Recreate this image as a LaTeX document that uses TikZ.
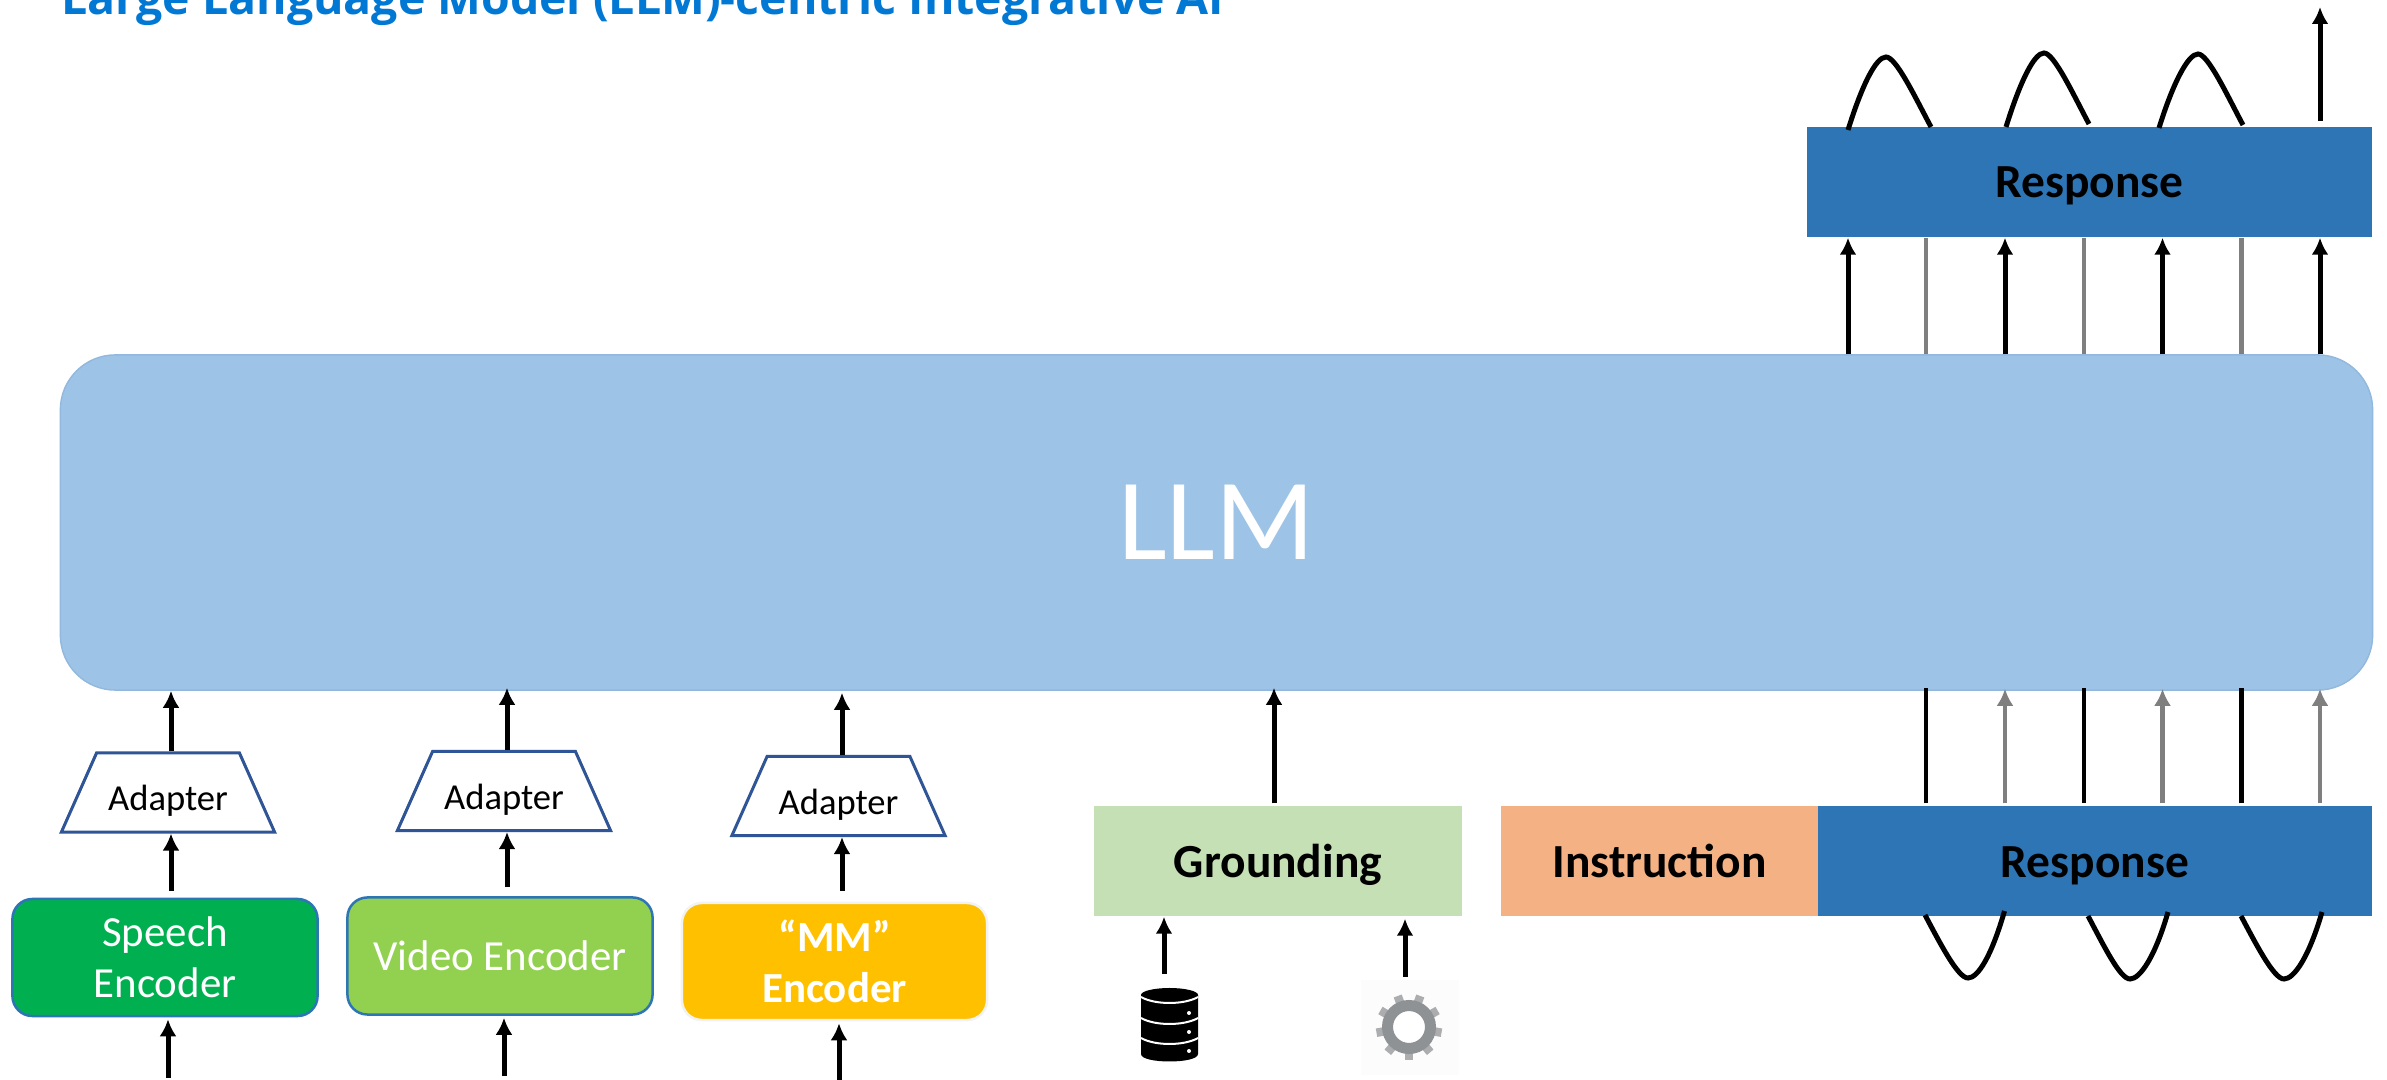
\documentclass[tikz,border=0pt]{standalone}
\usepackage{fontspec}
\setmainfont{Carlito}
\newfontfamily\titlefont{Open Sans}
\usetikzlibrary{arrows.meta, shapes.geometric}

\definecolor{llmblue}{HTML}{9DC3E6}
\definecolor{respblue}{HTML}{2E75B6}
\definecolor{edgeblue}{HTML}{2F5597}
\definecolor{groundgreen}{HTML}{C5E0B4}
\definecolor{instrorange}{HTML}{F4B183}
\definecolor{speechgreen}{HTML}{00B050}
\definecolor{videogreen}{HTML}{92D050}
\definecolor{mmyellow}{HTML}{FFC000}
\definecolor{titleblue}{HTML}{0078D4}
\definecolor{flowgray}{HTML}{7F7F7F}
\definecolor{geargray}{HTML}{8F9295}

\tikzset{
  flow/.style={-{Latex[length=.17cm,width=.17cm]},line width=.05cm},
  grayflow/.style={flow,flowgray,line width=.045cm},
  stub/.style={line width=.045cm},
  wave/.style={line width=.05cm},
  bar/.style={inner sep=0,minimum height=1.1cm,font=\fontsize{13.5}{15}\bfseries\selectfont,text height=.40cm,text depth=.08cm},
  encoder/.style={draw,rounded corners=.2cm,line width=.025cm,inner sep=0,minimum height=1.17cm,minimum width=3.05cm,text=white,align=center,font=\fontsize{12.2}{14.5}\selectfont},
  adapter/.style={draw=edgeblue,line width=.03cm,trapezium,trapezium stretches=true,trapezium left angle=61.4,trapezium right angle=61.4,inner sep=0,minimum width=2.14cm,minimum height=.79cm,font=\fontsize{10.4}{12}\selectfont,text height=.45cm,text depth=.09cm},
}

\begin{document}
\begin{tikzpicture}[x=0.01cm,y=-0.01cm]
\useasboundingbox (0,0) rectangle (2387,1080);
\fill[white] (0,0) rectangle (2387,1080);

\node[anchor=base west,inner sep=0,text=titleblue,font=\titlefont\fontsize{13.2}{15}\bfseries\selectfont] (title) at (61,15) {Large Language Model (LLM)-centric Integrative AI};

\node[draw=llmblue!90!edgeblue,fill=llmblue,rounded corners=.55cm,inner sep=0,minimum width=23.11cm,minimum height=3.35cm,text=white,font=\fontsize{33}{36}\selectfont] (llm) at (1216.5,522.5) {LLM};

% output side
\node[bar,fill=respblue,minimum width=5.65cm] (resptop) at (2089.5,182) {Response};
\node[bar,fill=respblue,minimum width=5.54cm] (respbot) at (2095,861) {Response};
\node[bar,fill=instrorange,minimum width=3.17cm] (instr) at (1659.5,861) {Instruction};
\node[bar,fill=groundgreen,minimum width=3.68cm] (ground) at (1278,861) {Grounding};

\foreach \i/\xa/\xb in {1/1848/1926,2/2005/2084,3/2162.5/2241.5}{
  \coordinate (up\i) at (\xa,0);
  \coordinate (down\i) at (\xb,0);
  \draw[flow] (up\i |- llm.north) -- (up\i |- resptop.south);
  \draw[stub,flowgray] (down\i |- llm.north) -- (down\i |- resptop.south);
  \draw[stub,shorten <=.02cm,shorten >=-.03cm] (down\i |- respbot.north) -- (down\i |- llm.south);
}
\coordinate (up4) at (2320,0);
\draw[flow] (up4 |- llm.north) -- (up4 |- resptop.south);
\coordinate (topend) at (2320,7);
\draw[flow,shorten <=.05cm] (up4 |- resptop.north) -- (topend);
\foreach \i in {2,3,4}{
  \draw[grayflow,shorten <=.02cm,shorten >=-.02cm] (up\i |- respbot.north) -- (up\i |- llm.south);
}

% bumps over and under the response bars
\foreach \i/\ax/\ay/\bx/\by/\cx/\cy in {1/1848/130/1886/57/1931/127,2/2006/127/2044/53/2089/124,3/2159/128/2198/54/2243/125}{
  \coordinate (ba\i) at (\ax,\ay);
  \coordinate (bb\i) at (\bx,\by);
  \coordinate (bc\i) at (\cx,\cy);
  \draw[wave] (ba\i) .. controls +(14,-45) and +(-10,0) .. (bb\i) .. controls +(10,0) and +(-16,-30) .. (bc\i);
}
\foreach \i/\ax/\ay/\bx/\by/\cx/\cy in {1/1925/915/1968/978/2004.5/911,2/2088/916/2130/979/2168/912,3/2241/916/2284/979/2322/912}{
  \coordinate (da\i) at (\ax,\ay);
  \coordinate (db\i) at (\bx,\by);
  \coordinate (dc\i) at (\cx,\cy);
  \draw[wave] (da\i) .. controls +(16,30) and +(-10,0) .. (db\i) .. controls +(10,0) and +(-13,45) .. (dc\i);
}

% encoders
\node[encoder,draw=respblue,fill=speechgreen] (speech) at (165,957.5) {Speech\\Encoder};
\node[encoder,draw=respblue,fill=videogreen] (video) at (500,956) {Video Encoder};
\node[encoder,draw=white!95!black,fill=mmyellow,font=\fontsize{12.2}{14.5}\bfseries\selectfont] (mm) at (834.5,961.5) {``MM''\\Encoder};

\node[adapter] (ada1) at (168,792.5) {Adapter};
\node[adapter] (ada2) at (504,791) {Adapter};
\node[adapter] (ada3) at (838.5,796) {Adapter};

\foreach \i/\enc/\cx/\ix/\iy/\gap/\over in {1/speech/171/168/1078/.07cm/.0cm,2/video/507/504/1076/.09cm/.03cm,3/mm/842/839/1080/.11cm/-.02cm}{
  \coordinate (col\i) at (\cx,0);
  \coordinate (in\i) at (\ix,\iy);
  \draw[flow,shorten >=-\over] (col\i |- ada\i.north) -- (col\i |- llm.south);
  \draw[flow,shorten <=\gap] (col\i |- \enc.north) -- (col\i |- ada\i.south);
  \draw[flow,shorten >=.02cm] (in\i) -- (in\i |- \enc.south);
}

% grounding sources
\node[inner sep=0,minimum width=.57cm,minimum height=.73cm] (db) at (1169.5,1024.5) {};
\fill (1141,995) -- (1141,1054) .. controls (1141,1064) and (1198,1064) .. (1198,1054) -- (1198,995) -- cycle;
\fill (1169.5,995) ellipse[x radius=28.5,y radius=7];
\foreach \y in {997,1018,1038}{
  \draw[white,line width=.02cm] (1141,\y) .. controls (1155,\y+8) and (1184,\y+8) .. (1198,\y);
}
\foreach \y in {1013,1032,1051}{
  \fill[white] (1189,\y) circle[radius=2];
}

\node[fill=white!99!black,inner sep=0,minimum width=.98cm,minimum height=.95cm] (gear) at (1410,1027.5) {};
\foreach \a in {90,130,...,410}{
  \draw[geargray!75,line width=.085cm] (1409,1027) ++(\a:24) -- ++(\a:9);
}
\draw[geargray,line width=.11cm,fill=white] (1409,1027) circle[radius=21.5];

\coordinate (dbout) at (1164,974);
\coordinate (gearout) at (1405,977);
\draw[flow] (dbout) -- (dbout |- ground.south);
\draw[flow,shorten >=.02cm] (gearout) -- (gearout |- ground.south);
\coordinate (groundup) at (1274,0);
\draw[flow,shorten <=.02cm,shorten >=-.03cm] (groundup |- ground.north) -- (groundup |- llm.south);
\end{tikzpicture}
\end{document}
